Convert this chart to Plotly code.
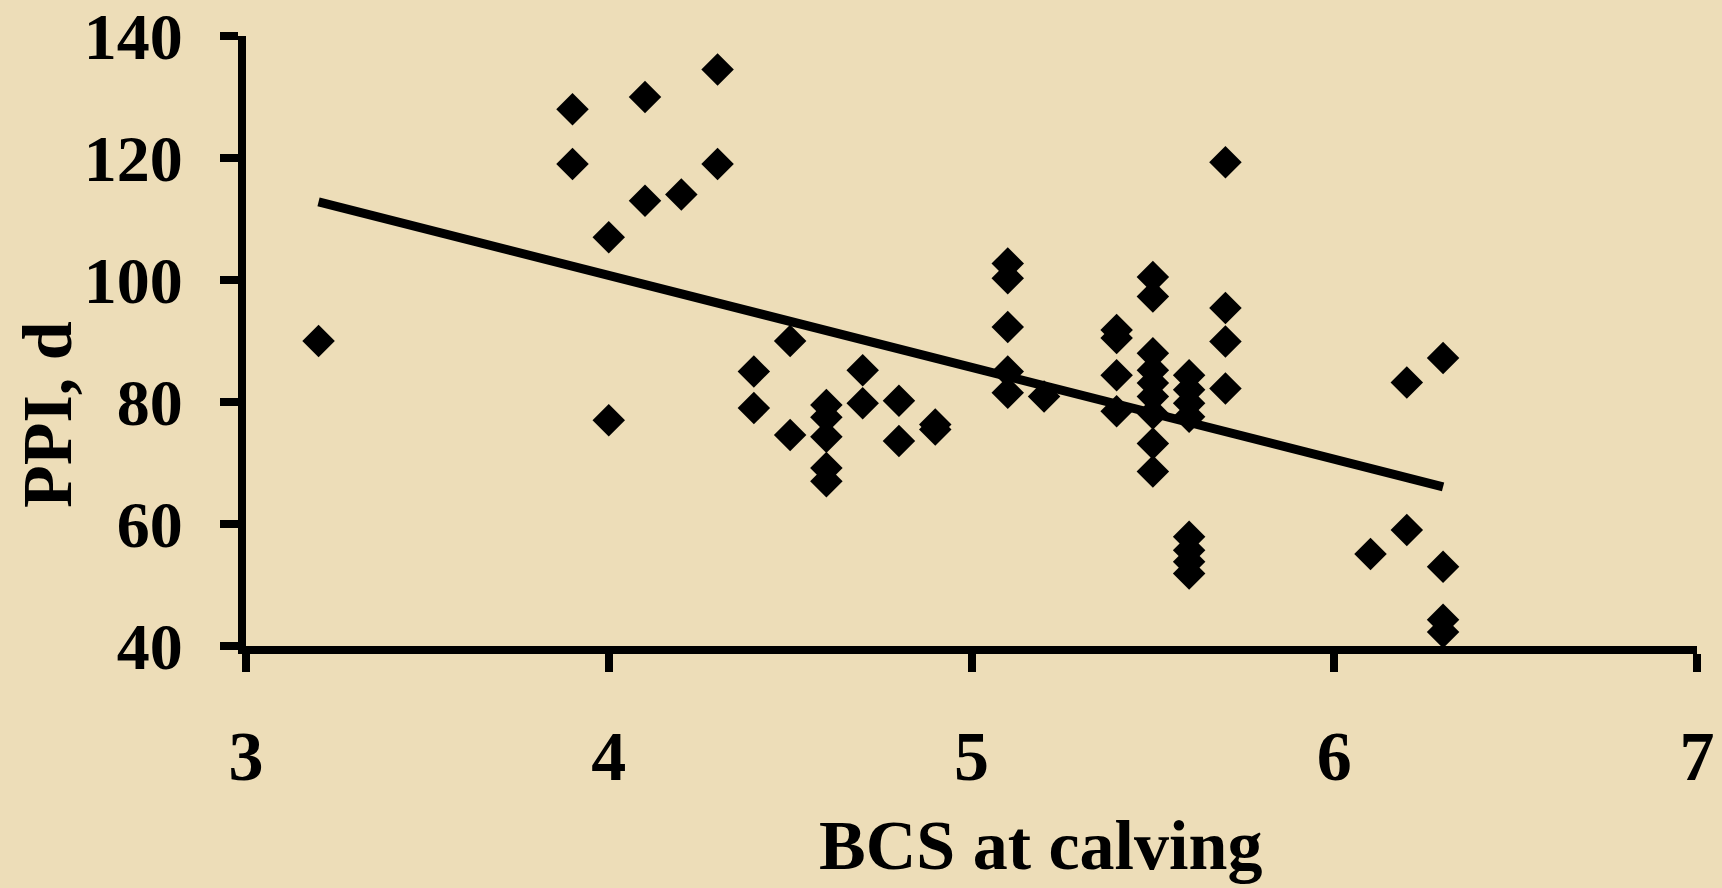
import plotly.graph_objects as go

# BCS at calving (x) vs PPI, d (y)
bcs = [3.2,
       3.9, 3.9,
       4.0, 4.0,
       4.1, 4.1,
       4.2,
       4.3, 4.3,
       4.4, 4.4,
       4.5, 4.5,
       4.6, 4.6, 4.6, 4.6, 4.6,
       4.7, 4.7,
       4.8, 4.8,
       4.9, 4.9,
       5.1, 5.1, 5.1, 5.1, 5.1,
       5.2,
       5.4, 5.4, 5.4, 5.4,
       5.5, 5.5, 5.5, 5.5, 5.5, 5.5, 5.5, 5.5, 5.5,
       5.6, 5.6, 5.6, 5.6, 5.6, 5.6, 5.6, 5.6,
       5.7, 5.7, 5.7, 5.7,
       6.1,
       6.2, 6.2,
       6.3, 6.3, 6.3, 6.3]
ppi = [90,
       128, 119,
       107, 77,
       130, 113,
       114,
       134.5, 119,
       85, 79,
       90, 74.6,
       79.5, 77.5, 74.3, 69.2, 67,
       85.2, 79.8,
       80.2, 73.6,
       76.3, 75.5,
       102.7, 100.3, 92.3, 85, 81.5,
       80.9,
       91.8, 90.5, 84.4, 78.5,
       100.5, 97.3, 88, 85.2, 83.1, 80.9, 78.1, 73.2, 68.6,
       84.4, 82, 79.8, 77.6, 57.9, 55.7, 53.8, 51.9,
       119.3, 95.4, 89.9, 82.2,
       55.1,
       83.2, 59.0,
       87.2, 53.0, 44.3, 42.3]

# regression line end points
trend_x = [3.2, 6.3]
trend_y = [112.8, 66.1]

x_ticks = [3, 4, 5, 6, 7]
y_ticks = [40, 60, 80, 100, 120, 140]

x_title = "BCS at calving"
y_title = "PPI, d"

FONT = "Liberation Serif, Times New Roman, serif"
BG = "#EDDDB8"

fig = go.Figure()
fig.add_trace(go.Scatter(
    x=bcs, y=ppi, mode="markers",
    marker=dict(symbol="diamond", size=25, color="black", line=dict(width=0)),
    showlegend=False, cliponaxis=False,
))
fig.add_trace(go.Scatter(
    x=trend_x, y=trend_y, mode="lines",
    line=dict(color="black", width=9),
    showlegend=False,
))

W, H = 1722, 888
L, T = 246, 36
R = W - 1697
B = H - 646
pw = W - L - R
ph = H - T - B


def px_to_paper(xp, yp):
    return (xp - L) / pw, 1 - (yp - T) / ph


xt_x, xt_y = px_to_paper(1040, 845)
yt_x, yt_y = px_to_paper(47, 415)

fig.update_layout(
    template="none",
    width=W, height=H,
    margin=dict(l=L, r=R, t=T, b=B, pad=0),
    paper_bgcolor=BG, plot_bgcolor=BG,
    font=dict(family=FONT, color="black"),
    xaxis=dict(
        range=[3, 7], tickvals=x_ticks, ticktext=[str(v) for v in x_ticks],
        showgrid=False, zeroline=False, automargin=False,
        showline=True, linecolor="black", linewidth=8,
        ticks="outside", ticklen=18, tickwidth=8, tickcolor="black",
        tickfont=dict(family=FONT, size=70, color="black", weight="bold"),
        ticklabelstandoff=24, ticklabeloverflow="allow",
    ),
    yaxis=dict(
        range=[40, 140], tickvals=y_ticks, ticktext=[str(v) for v in y_ticks],
        showgrid=False, zeroline=False, automargin=False,
        showline=True, linecolor="black", linewidth=8,
        ticks="outside", ticklen=18, tickwidth=8, tickcolor="black",
        tickfont=dict(family=FONT, size=66, color="black", weight="bold"),
        ticklabelstandoff=24, ticklabeloverflow="allow",
    ),
    annotations=[
        dict(text=x_title, xref="paper", yref="paper",
             x=xt_x, y=xt_y,
             xanchor="center", yanchor="middle", showarrow=False,
             font=dict(family=FONT, size=70, color="black", weight="bold")),
        dict(text=y_title, xref="paper", yref="paper",
             x=yt_x, y=yt_y,
             xanchor="center", yanchor="middle", showarrow=False, textangle=-90,
             font=dict(family=FONT, size=70, color="black", weight="bold")),
    ],
)

fig.write_html(
    "out.html",
    config={"displayModeBar": False},
    post_script="document.body.style.margin='0';document.body.style.overflow='hidden';",
)
